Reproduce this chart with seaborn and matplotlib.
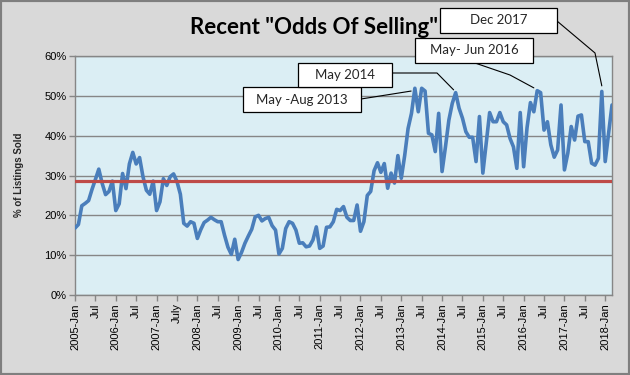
import matplotlib
matplotlib.use("Agg")
import matplotlib.pyplot as plt
from matplotlib.lines import Line2D
from matplotlib.patches import Rectangle
import numpy as np
import pandas as pd
import seaborn as sns

# ---- data (monthly % of listings sold, Jan 2005 .. Mar 2018) ----
pct_2005 = [16.8, 17.7, 22.4, 23.0, 23.7, 26.5, 29.0, 31.6, 28.0, 25.2, 26.0, 28.6]
pct_2006 = [21.2, 22.9, 30.5, 26.7, 32.9, 35.8, 32.9, 34.5, 29.7, 26.3, 25.3, 28.6]
pct_2007 = [21.2, 23.4, 29.2, 27.5, 29.7, 30.4, 28.5, 25.3, 18.0, 17.3, 18.4, 18.0]
pct_2008 = [14.2, 16.4, 18.2, 18.8, 19.5, 18.9, 18.4, 18.4, 15.0, 12.0, 10.2, 14.0]
pct_2009 = [8.9, 10.7, 13.0, 14.8, 16.5, 19.6, 20.0, 18.6, 19.2, 19.5, 17.4, 16.3]
pct_2010 = [10.3, 11.7, 16.7, 18.4, 18.0, 16.3, 13.0, 13.1, 12.1, 12.3, 13.8, 17.1]
pct_2011 = [11.7, 12.3, 17.0, 17.1, 18.4, 21.5, 21.2, 22.2, 19.5, 18.7, 18.7, 22.6]
pct_2012 = [16.0, 18.4, 25.0, 26.0, 31.2, 33.2, 30.8, 33.0, 26.8, 30.6, 28.1, 35.0]
pct_2013 = [29.3, 35.0, 41.8, 45.6, 51.9, 46.0, 51.9, 51.2, 40.6, 40.2, 36.0, 45.6]
pct_2014 = [31.0, 37.2, 43.9, 48.1, 50.8, 46.9, 44.4, 41.0, 39.6, 39.6, 33.5, 44.8]
pct_2015 = [30.6, 38.1, 45.8, 43.5, 43.5, 45.8, 43.5, 42.7, 39.3, 37.2, 31.8, 45.8]
pct_2016 = [32.2, 42.0, 48.3, 46.0, 51.3, 50.8, 41.4, 43.5, 37.7, 34.6, 36.4, 47.7]
pct_2017 = [31.4, 35.6, 42.3, 38.9, 44.9, 45.2, 38.5, 38.5, 33.1, 32.6, 34.3, 51.1]
pct_2018 = [33.5, 40.6, 47.7]

values = (pct_2005 + pct_2006 + pct_2007 + pct_2008 + pct_2009 + pct_2010 + pct_2011
          + pct_2012 + pct_2013 + pct_2014 + pct_2015 + pct_2016 + pct_2017 + pct_2018)

tick_labels = ["2005-Jan", "Jul", "2006-Jan", "Jul", "2007-Jan", "July", "2008-Jan", "Jul",
               "2009-Jan", "Jul", "2010-Jan", "Jul", "2011-Jan", "Jul", "2012-Jan", "Jul",
               "2013-Jan", "Jul", "2014-Jan", "Jul", "2015-Jan", "Jul", "2016-Jan", "Jul",
               "2017-Jan", "Jul", "2018-Jan"]
y_ticks = [0, 10, 20, 30, 40, 50, 60]
average_pct = 28.5

ann_labels = ["May -Aug 2013", "May 2014", "May- Jun 2016", "Dec 2017"]
ann_month = [98.9, 111.4, 135.0, 155.0]
ann_pct = [51.2, 51.5, 52.0, 52.5]

# ---- figure ----
W, H = 630, 375
sns.set_theme(style="white")
plt.rcParams["font.family"] = ["Liberation Sans", "DejaVu Sans"]

fig = plt.figure(figsize=(W / 100, H / 100), dpi=100, facecolor="#D9D9D9")
L, R, T, B = 75, 612, 56, 295
ax = fig.add_axes([L / W, 1 - B / H, (R - L) / W, (B - T) / H])
ax.set_facecolor("#DBEEF4")

df = pd.DataFrame({"month": np.arange(len(values)), "pct": values})
sns.lineplot(data=df, x="month", y="pct", ax=ax, color="#4A7EBB", lw=2.6, zorder=3)
ax.axhline(average_pct, color="#BE4B48", lw=2.3, zorder=4)

ax.set_xlim(0, len(values) - 1)
ax.set_ylim(0, 60)
ax.set_yticks(y_ticks)
ax.set_yticklabels([f"{v}%" for v in y_ticks], fontsize=8)
ax.set_xticks(np.arange(0, len(tick_labels) * 6, 6))
ax.set_xticklabels(tick_labels, rotation=90, fontsize=8)
ax.set_xticks(np.arange(0, len(values), 12), minor=True)
ax.set_xlabel("")
ax.set_ylabel("")

grid_c = "#868686"
ax.set_axisbelow(True)
ax.grid(axis="y", which="major", color=grid_c, lw=1.0)
ax.grid(axis="x", which="minor", color=grid_c, lw=1.0)
ax.grid(axis="x", which="major", visible=False)
ax.tick_params(axis="x", which="minor", length=0)
ax.tick_params(axis="both", which="major", length=4, width=1, color=grid_c,
               direction="out", pad=2, labelcolor="#000000")
ax.tick_params(axis="y", left=True)
ax.tick_params(axis="x", bottom=True)
for s in ax.spines.values():
    s.set_color(grid_c)
    s.set_linewidth(1.0)

# title & y label
fig.text(314 / W, 1 - 28 / H, 'Recent "Odds Of Selling"', fontsize=16, fontweight="bold",
         family=["Lato", "DejaVu Sans"], ha="center", va="center", color="#000000")
fig.text(19 / W, 1 - 175 / H, "% of Listings Sold", rotation=90, fontsize=7,
         fontweight="bold", ha="center", va="center")

# annotation boxes (pixel layout, top-left origin)
boxes = [(243, 87, 361, 112), (298, 63, 392, 87), (415, 38, 533, 63), (440, 8, 557, 33)]
# leader paths start (pixel) and intermediate points
leaders = [[(361, 99)], [(392, 73), (437, 73)], [(475, 63), (510, 75)], [(557, 21), (595, 53)]]

fig.canvas.draw()
to_fig = fig.transFigure.inverted()
for lab, (x0, y0, x1, y1), pts, m, v in zip(ann_labels, boxes, leaders, ann_month, ann_pct):
    end_disp = ax.transData.transform((m, v))
    end_fig = to_fig.transform(end_disp)
    xs = [p[0] / W for p in pts] + [end_fig[0]]
    ys = [1 - p[1] / H for p in pts] + [end_fig[1]]
    fig.add_artist(Line2D(xs, ys, transform=fig.transFigure, color="#000000", lw=0.8, zorder=10))
    fig.add_artist(Rectangle((x0 / W, 1 - y1 / H), (x1 - x0) / W, (y1 - y0) / H,
                             transform=fig.transFigure, facecolor="white",
                             edgecolor="#000000", lw=0.9, zorder=11))
    fig.text((x0 + x1) / 2 / W, 1 - (y0 + y1) / 2 / H, lab, fontsize=9.5,
             family=["Lato", "DejaVu Sans"], ha="center", va="center", zorder=12)

# outer border
fig.add_artist(Rectangle((0, 0), 1, 1, transform=fig.transFigure, fill=False,
                         edgecolor="#7F7F7F", lw=3, zorder=20))

fig.savefig("out.png", dpi=100, facecolor=fig.get_facecolor())
